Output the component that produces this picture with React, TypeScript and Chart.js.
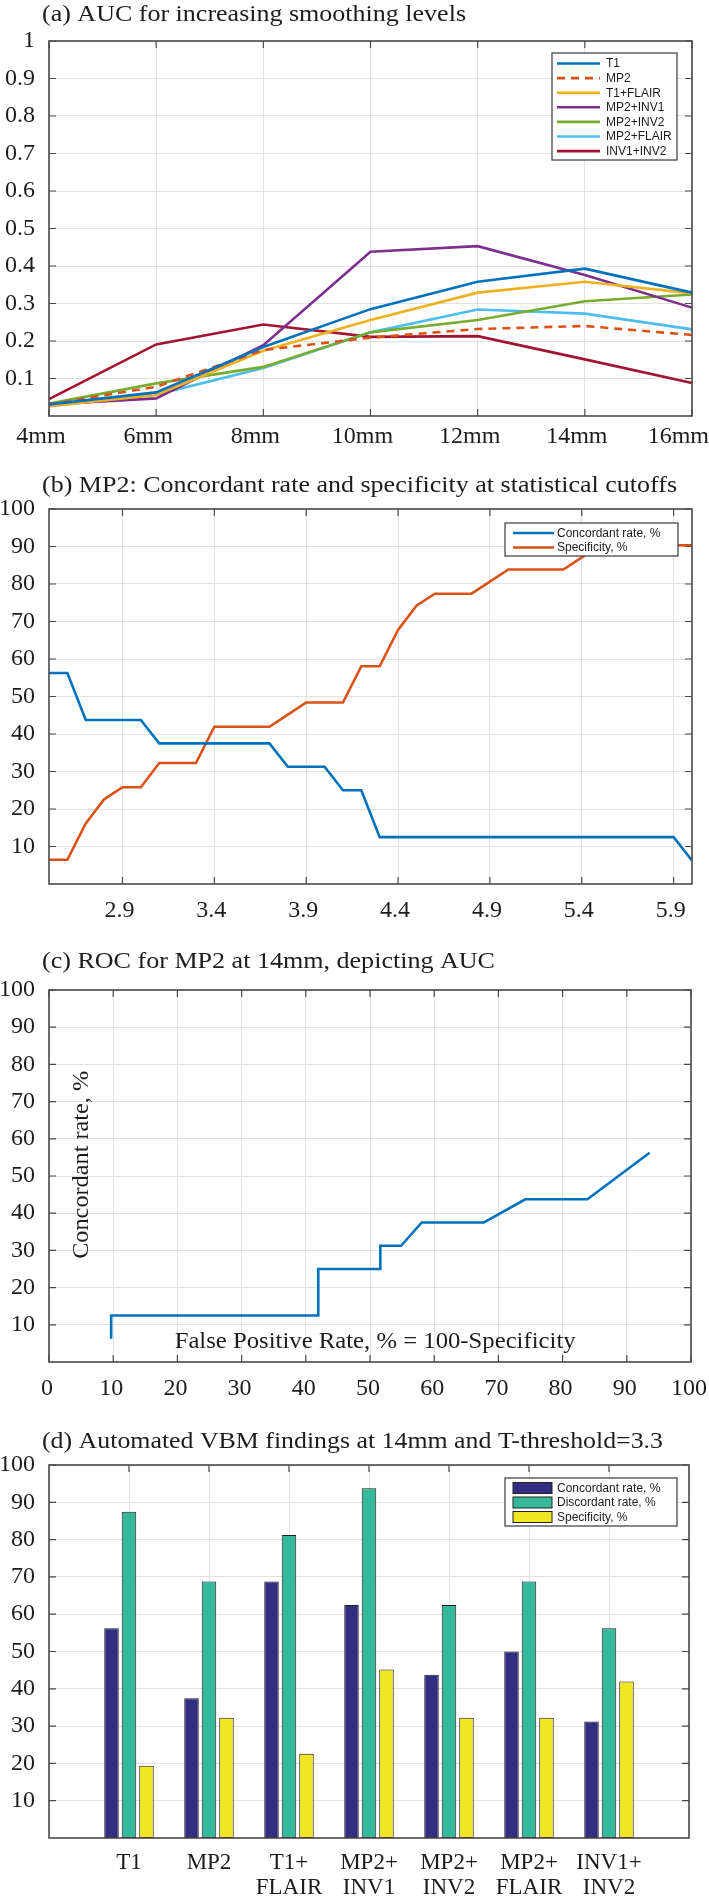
import React, { useEffect, useRef } from 'react';
import { Chart, registerables } from 'chart.js';

Chart.register(...registerables);

const SERIF = "'Liberation Serif', 'Times New Roman', Times, serif";
const SANS = "'Liberation Sans', Arial, Helvetica, sans-serif";
const TEXT = '#1c1c1c';
const GRID = '#e2e2e2';
const FRAME = '#4a4a4a';

// ---------- (a) AUC for increasing smoothing levels ----------
const smoothingLevels = ['4mm', '6mm', '8mm', '10mm', '12mm', '14mm', '16mm'];
const aucT1 = [0.031, 0.063, 0.184, 0.285, 0.358, 0.393, 0.329];
const aucMP2 = [0.031, 0.078, 0.176, 0.209, 0.232, 0.24, 0.216];
const aucT1Flair = [0.026, 0.056, 0.174, 0.256, 0.329, 0.358, 0.327];
const aucMP2Inv1 = [0.031, 0.047, 0.189, 0.438, 0.453, 0.376, 0.289];
const aucMP2Inv2 = [0.033, 0.087, 0.131, 0.223, 0.256, 0.306, 0.324];
const aucMP2Flair = [0.026, 0.057, 0.128, 0.223, 0.284, 0.273, 0.231];
const aucInv1Inv2 = [0.045, 0.191, 0.244, 0.211, 0.213, 0.151, 0.088];
const aucTickValues = [0.1, 0.2, 0.3, 0.4, 0.5, 0.6, 0.7, 0.8, 0.9, 1.0];
const aucTickLabels = ['0.1', '0.2', '0.3', '0.4', '0.5', '0.6', '0.7', '0.8', '0.9', '1'];

// ---------- (b) MP2 cutoffs ----------
const cutoffs = [2.5, 2.6, 2.7, 2.8, 2.9, 3.0, 3.1, 3.2, 3.3, 3.4, 3.5, 3.6, 3.7, 3.8, 3.9, 4.0, 4.1, 4.2,
  4.3, 4.4, 4.5, 4.6, 4.7, 4.8, 4.9, 5.0, 5.1, 5.2, 5.3, 5.4, 5.5, 5.6, 5.7, 5.8, 5.9, 6.0];
const concordantRate = [56.25, 56.25, 43.75, 43.75, 43.75, 43.75, 37.5, 37.5, 37.5, 37.5, 37.5, 37.5, 37.5,
  31.25, 31.25, 31.25, 25, 25, 12.5, 12.5, 12.5, 12.5, 12.5, 12.5, 12.5, 12.5, 12.5, 12.5, 12.5, 12.5, 12.5,
  12.5, 12.5, 12.5, 12.5, 6.25];
const specificity = [6.45, 6.45, 16.13, 22.58, 25.81, 25.81, 32.26, 32.26, 32.26, 41.94, 41.94, 41.94, 41.94,
  45.16, 48.39, 48.39, 48.39, 58.06, 58.06, 67.74, 74.19, 77.42, 77.42, 77.42, 80.65, 83.87, 83.87, 83.87,
  83.87, 87.1, 90.32, 90.32, 90.32, 90.32, 90.32, 90.32];
const cutoffTickValues = [2.9, 3.4, 3.9, 4.4, 4.9, 5.4, 5.9];
const cutoffTickLabels = ['2.9', '3.4', '3.9', '4.4', '4.9', '5.4', '5.9'];

// ---------- (c) ROC ----------
const rocFalsePositive = [93.55, 83.87, 77.42, 74.19, 67.74, 58.06, 54.84, 51.61, 51.61, 41.94, 41.94, 9.68, 9.68];
const rocConcordant = [56.25, 43.75, 43.75, 43.75, 37.5, 37.5, 31.25, 31.25, 25, 25, 12.5, 12.5, 6.25];
const rocXTickValues = [0, 10, 20, 30, 40, 50, 60, 70, 80, 90, 100];
const rocXTickLabels = ['0', '10', '20', '30', '40', '50', '60', '70', '80', '90', '100'];

// ---------- (d) VBM findings ----------
const vbmMethods = [['T1'], ['MP2'], ['T1+', 'FLAIR'], ['MP2+', 'INV1'], ['MP2+', 'INV2'], ['MP2+', 'FLAIR'], ['INV1+', 'INV2']];
const vbmConcordant = [56.25, 37.5, 68.75, 62.5, 43.75, 50, 31.25];
const vbmDiscordant = [87.5, 68.75, 81.25, 93.75, 62.5, 68.75, 56.25];
const vbmSpecificity = [19.35, 32.26, 22.58, 45.16, 32.26, 32.26, 41.94];

const pctTickValues = [10, 20, 30, 40, 50, 60, 70, 80, 90, 100];
const pctTickLabels = ['10', '20', '30', '40', '50', '60', '70', '80', '90', '100'];

const C_BLUE = '#0072BD';
const C_ORANGE = '#D95319';
const C_YELLOW = '#EDB120';
const C_PURPLE = '#7E2F8E';
const C_GREEN = '#77AC30';
const C_CYAN = '#4DBEEE';
const C_DARKRED = '#A2142F';
const C_NAVY = '#312D80';
const C_TEAL = '#36B89B';
const C_BARYELLOW = '#F1E624';

type LegendItem = { label: string; color: string; dash?: number[]; kind: 'line' | 'box' };
type LegendSpec = { x: number; y: number; w: number; h: number; row0: number; rowStep: number; sx0: number; sx1: number; tx: number; items: LegendItem[] };

function drawFittedText(ctx: CanvasRenderingContext2D, text: string, x: number, y: number, font: string, targetW: number) {
  ctx.save();
  ctx.font = font;
  const w = ctx.measureText(text).width;
  const sx = targetW / w;
  ctx.translate(x, y);
  ctx.scale(sx, 1);
  ctx.fillStyle = TEXT;
  ctx.textAlign = 'left';
  ctx.textBaseline = 'middle';
  ctx.fillText(text, 0, 0);
  ctx.restore();
}

function drawLegend(ctx: CanvasRenderingContext2D, L: LegendSpec) {
  if (!L.items.length) return;
  ctx.save();
  ctx.fillStyle = '#ffffff';
  ctx.fillRect(L.x, L.y, L.w, L.h);
  ctx.strokeStyle = '#3a3a3a';
  ctx.lineWidth = 1.2;
  ctx.strokeRect(L.x, L.y, L.w, L.h);
  L.items.forEach((it, i) => {
    const cy = L.y + L.row0 + i * L.rowStep;
    if (it.kind === 'line') {
      ctx.strokeStyle = it.color;
      ctx.lineWidth = 2.6;
      ctx.setLineDash(it.dash || []);
      ctx.beginPath();
      ctx.moveTo(L.sx0, cy);
      ctx.lineTo(L.sx1, cy);
      ctx.stroke();
      ctx.setLineDash([]);
    } else {
      ctx.fillStyle = it.color;
      ctx.fillRect(L.sx0, cy - 5.5, L.sx1 - L.sx0, 11);
      ctx.strokeStyle = '#222';
      ctx.lineWidth = 1;
      ctx.strokeRect(L.sx0, cy - 5.5, L.sx1 - L.sx0, 11);
    }
    ctx.fillStyle = TEXT;
    ctx.font = `12px ${SANS}`;
    ctx.textAlign = 'left';
    ctx.textBaseline = 'middle';
    ctx.fillText(it.label, L.tx, cy + 0.5);
  });
  ctx.restore();
}

type FrameOpts = {
  title: string; titleY: number; titleW: number;
  xTicks: number[]; yTicks: number[];
  legend: LegendSpec;
  extra?: (chart: any) => void;
};

function framePlugin(o: FrameOpts) {
  return {
    id: 'frame',
    beforeDatasetsDraw(chart: any) {
      const { ctx, chartArea: a } = chart;
      const xs = chart.scales.x;
      const ys = chart.scales.y;
      ctx.save();
      ctx.strokeStyle = FRAME;
      ctx.lineWidth = 1.2;
      ctx.beginPath();
      o.xTicks.forEach((v) => {
        const p = xs.getPixelForValue(v);
        ctx.moveTo(p, a.bottom); ctx.lineTo(p, a.bottom - 7);
        ctx.moveTo(p, a.top); ctx.lineTo(p, a.top + 7);
      });
      o.yTicks.forEach((v) => {
        const p = ys.getPixelForValue(v);
        ctx.moveTo(a.left, p); ctx.lineTo(a.left + 7, p);
        ctx.moveTo(a.right, p); ctx.lineTo(a.right - 7, p);
      });
      ctx.stroke();
      ctx.restore();
    },
    afterDraw(chart: any) {
      const { ctx, chartArea: a } = chart;
      ctx.save();
      ctx.strokeStyle = FRAME;
      ctx.lineWidth = 1.6;
      ctx.strokeRect(a.left, a.top, a.right - a.left, a.bottom - a.top);
      ctx.restore();
      if (o.extra) o.extra(chart);
      drawLegend(ctx, o.legend);
      drawFittedText(ctx, o.title, 42, o.titleY, `24px ${SERIF}`, o.titleW);
    },
  };
}

const tickFont = { family: SERIF, size: 24 };

function yAxis(min: number, max: number, vals: number[], labels: string[]) {
  return {
    type: 'linear',
    min, max,
    afterBuildTicks: (s: any) => { s.ticks = vals.map((v) => ({ value: v })); },
    afterFit: (s: any) => { s.width = 49; s.paddingTop = 0; s.paddingBottom = 0; },
    ticks: { callback: (_v: any, i: number) => labels[i], font: tickFont, color: TEXT, padding: 14 },
    grid: { color: GRID, drawTicks: false, lineWidth: 1 },
    border: { display: false },
  };
}

function baseOptions(padTop: number, padRight: number) {
  return {
    animation: false,
    responsive: false,
    maintainAspectRatio: false,
    layout: { autoPadding: false, padding: { left: 0, right: padRight, top: padTop, bottom: 0 } },
    plugins: { legend: { display: false }, title: { display: false }, tooltip: { enabled: false } },
    elements: { point: { radius: 0 }, line: { tension: 0 } },
  };
}

function configA(): any {
  const mk = (label: string, data: number[], color: string, dash?: number[]) => ({
    label, data, borderColor: color, backgroundColor: color, borderWidth: 2.6, borderDash: dash || [], pointRadius: 0, fill: false,
  });
  return {
    type: 'line',
    data: {
      labels: smoothingLevels,
      datasets: [
        mk('T1', aucT1, C_BLUE),
        mk('MP2', aucMP2, C_ORANGE, [8, 6]),
        mk('T1+FLAIR', aucT1Flair, C_YELLOW),
        mk('MP2+INV1', aucMP2Inv1, C_PURPLE),
        mk('MP2+INV2', aucMP2Inv2, C_GREEN),
        mk('MP2+FLAIR', aucMP2Flair, C_CYAN),
        mk('INV1+INV2', aucInv1Inv2, C_DARKRED),
      ],
    },
    options: {
      ...baseOptions(41, 17),
      scales: {
        x: {
          type: 'category', offset: false,
          afterFit: (s: any) => { s.height = 54; s.paddingLeft = 0; s.paddingRight = 0; },
          ticks: { display: false, autoSkip: false },
          grid: { color: GRID, drawTicks: false, offset: false },
          border: { display: false },
        },
        y: yAxis(0, 1, aucTickValues, aucTickLabels),
      },
    },
    plugins: [framePlugin({
      title: '(a) AUC for increasing smoothing levels', titleY: 15, titleW: 424,
      xTicks: [0, 1, 2, 3, 4, 5, 6], yTicks: aucTickValues,
      legend: {
        x: 552, y: 53, w: 125, h: 107, row0: 10.5, rowStep: 14.6, sx0: 557, sx1: 600, tx: 606,
        items: [
          { label: 'T1', color: C_BLUE, kind: 'line' },
          { label: 'MP2', color: C_ORANGE, dash: [8, 6], kind: 'line' },
          { label: 'T1+FLAIR', color: C_YELLOW, kind: 'line' },
          { label: 'MP2+INV1', color: C_PURPLE, kind: 'line' },
          { label: 'MP2+INV2', color: C_GREEN, kind: 'line' },
          { label: 'MP2+FLAIR', color: C_CYAN, kind: 'line' },
          { label: 'INV1+INV2', color: C_DARKRED, kind: 'line' },
        ],
      },
      extra: (chart: any) => {
        // x tick labels, kept inside the canvas
        const ctx = chart.ctx;
        const xs = chart.scales.x;
        const a = chart.chartArea;
        ctx.save();
        ctx.font = `24px ${SERIF}`;
        ctx.fillStyle = TEXT;
        ctx.textAlign = 'center';
        ctx.textBaseline = 'middle';
        smoothingLevels.forEach((lab, i) => {
          const w = ctx.measureText(lab).width;
          let x = xs.getPixelForValue(i) - 8;
          x = Math.min(x, chart.width - w / 2);
          ctx.fillText(lab, x, a.bottom + 21);
        });
        ctx.restore();
      },
    })],
  };
}

function configB(): any {
  return {
    type: 'line',
    data: {
      datasets: [
        { label: 'Concordant rate, %', data: cutoffs.map((c, i) => ({ x: c, y: concordantRate[i] })), borderColor: C_BLUE, borderWidth: 2.6, pointRadius: 0 },
        { label: 'Specificity, %', data: cutoffs.map((c, i) => ({ x: c, y: specificity[i] })), borderColor: C_ORANGE, borderWidth: 2.6, pointRadius: 0 },
      ],
    },
    options: {
      ...baseOptions(39, 17),
      scales: {
        x: {
          type: 'linear', min: 2.5, max: 6.0,
          afterBuildTicks: (s: any) => { s.ticks = cutoffTickValues.map((v) => ({ value: v })); },
          afterFit: (s: any) => { s.height = 66; s.paddingLeft = 0; s.paddingRight = 0; },
          ticks: { callback: (_v: any, i: number) => cutoffTickLabels[i], font: tickFont, color: TEXT, padding: 12, labelOffset: -3, maxRotation: 0, minRotation: 0, autoSkip: false },
          grid: { color: GRID, drawTicks: false },
          border: { display: false },
        },
        y: yAxis(0, 100, pctTickValues, pctTickLabels),
      },
    },
    plugins: [framePlugin({
      title: '(b) MP2: Concordant rate and specificity at statistical cutoffs', titleY: 16, titleW: 635,
      xTicks: cutoffTickValues, yTicks: pctTickValues,
      legend: {
        x: 505, y: 53, w: 173, h: 33, row0: 10, rowStep: 14.5, sx0: 513, sx1: 554, tx: 557,
        items: [
          { label: 'Concordant rate, %', color: C_BLUE, kind: 'line' },
          { label: 'Specificity, %', color: C_ORANGE, kind: 'line' },
        ],
      },
    })],
  };
}

function configC(): any {
  return {
    type: 'line',
    data: {
      datasets: [
        { label: 'ROC', data: rocFalsePositive.map((f, i) => ({ x: f, y: rocConcordant[i] })), borderColor: C_BLUE, borderWidth: 2.6, pointRadius: 0 },
      ],
    },
    options: {
      ...baseOptions(40, 18),
      scales: {
        x: {
          type: 'linear', min: 0, max: 100,
          afterBuildTicks: (s: any) => { s.ticks = rocXTickValues.map((v) => ({ value: v })); },
          afterFit: (s: any) => { s.height = 63; s.paddingLeft = 0; s.paddingRight = 0; },
          ticks: { callback: (_v: any, i: number) => rocXTickLabels[i], font: tickFont, color: TEXT, padding: 12, labelOffset: -2, maxRotation: 0, minRotation: 0, autoSkip: false },
          grid: { color: GRID, drawTicks: false },
          border: { display: false },
        },
        y: yAxis(0, 100, pctTickValues, pctTickLabels),
      },
    },
    plugins: [framePlugin({
      title: '(c) ROC for MP2 at 14mm, depicting AUC', titleY: 12, titleW: 453,
      xTicks: rocXTickValues, yTicks: pctTickValues,
      legend: { x: 0, y: 0, w: 0, h: 0, row0: 0, rowStep: 0, sx0: 0, sx1: 0, tx: 0, items: [] },
      extra: (chart: any) => {
        const ctx = chart.ctx;
        const xs = chart.scales.x;
        const ys = chart.scales.y;
        ctx.save();
        ctx.font = `24px ${SERIF}`;
        const label = 'Concordant rate, %';
        const w = ctx.measureText(label).width;
        ctx.translate(xs.getPixelForValue(5.1), ys.getPixelForValue(53));
        ctx.rotate(-Math.PI / 2);
        ctx.scale(188 / w, 1);
        ctx.fillStyle = TEXT;
        ctx.textAlign = 'center';
        ctx.textBaseline = 'middle';
        ctx.fillText(label, 0, 0);
        ctx.restore();
        ctx.save();
        ctx.font = `24px ${SERIF}`;
        const xl = 'False Positive Rate, % = 100-Specificity';
        const w2 = ctx.measureText(xl).width;
        ctx.translate(xs.getPixelForValue(50.8), ys.getPixelForValue(5.4));
        ctx.scale(401 / w2, 1);
        ctx.fillStyle = TEXT;
        ctx.textAlign = 'center';
        ctx.textBaseline = 'middle';
        ctx.fillText(xl, 0, 0);
        ctx.restore();
      },
    })],
  };
}

function configD(): any {
  const pad = (arr: number[]) => [null, ...arr, null];
  const bar = (label: string, data: number[], color: string) => ({
    label, data: pad(data), backgroundColor: color, borderColor: '#1e1e1e', borderWidth: 1, borderSkipped: false,
    categoryPercentage: 0.656, barPercentage: 0.83,
  });
  return {
    type: 'bar',
    data: {
      labels: ['', ...vbmMethods, ''],
      datasets: [
        bar('Concordant rate, %', vbmConcordant, C_NAVY),
        bar('Discordant rate, %', vbmDiscordant, C_TEAL),
        bar('Specificity, %', vbmSpecificity, C_BARYELLOW),
      ],
    },
    options: {
      ...baseOptions(40, 20),
      scales: {
        x: {
          type: 'category', offset: false,
          afterFit: (s: any) => { s.height = 62; s.paddingLeft = 0; s.paddingRight = 0; },
          ticks: { font: { family: SERIF, size: 23, lineHeight: 1.1 }, color: TEXT, padding: 12, maxRotation: 0, minRotation: 0, autoSkip: false },
          grid: { color: GRID, drawTicks: false, offset: false },
          border: { display: false },
        },
        y: yAxis(0, 100, pctTickValues, pctTickLabels),
      },
    },
    plugins: [framePlugin({
      title: '(d) Automated VBM findings at 14mm and T-threshold=3.3', titleY: 17, titleW: 621,
      xTicks: [1, 2, 3, 4, 5, 6, 7], yTicks: pctTickValues,
      legend: {
        x: 505, y: 53, w: 172, h: 48, row0: 10, rowStep: 14.5, sx0: 513, sx1: 552, tx: 557,
        items: [
          { label: 'Concordant rate, %', color: C_NAVY, kind: 'box' },
          { label: 'Discordant rate, %', color: C_TEAL, kind: 'box' },
          { label: 'Specificity, %', color: C_BARYELLOW, kind: 'box' },
        ],
      },
    })],
  };
}

function Panel({ top, height, make }: { top: number; height: number; make: () => any }) {
  const ref = useRef<HTMLCanvasElement | null>(null);
  useEffect(() => {
    if (!ref.current) return;
    const chart = new Chart(ref.current, make());
    return () => chart.destroy();
  }, []);
  return (
    <canvas
      ref={ref}
      width={709}
      height={height}
      style={{ position: 'absolute', left: 0, top, width: 709, height }}
    />
  );
}

export default function App() {
  return (
    <div style={{ position: 'absolute', left: 0, top: 0, width: 709, height: 1900, background: '#ffffff' }}>
      <Panel top={0} height={470} make={configA} />
      <Panel top={470} height={480} make={configB} />
      <Panel top={950} height={475} make={configC} />
      <Panel top={1425} height={475} make={configD} />
    </div>
  );
}
